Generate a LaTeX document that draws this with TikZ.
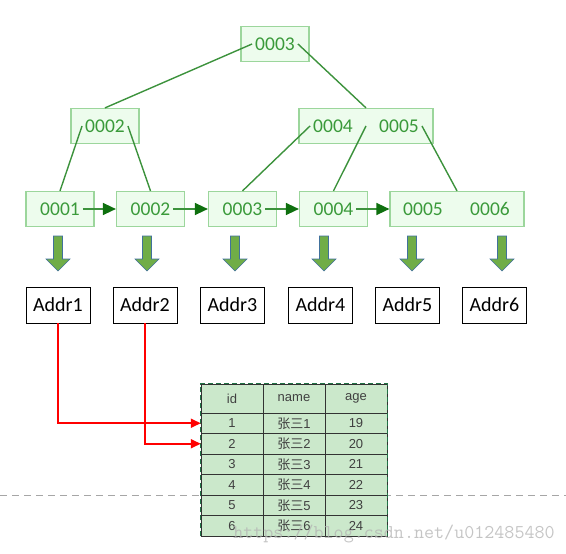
\documentclass[tikz,border=0pt]{standalone}
\usepackage{fontspec}
\setmainfont{Carlito}
\newfontfamily\cjk{Noto Sans CJK SC}
\newfontfamily\tabfont{Liberation Sans}
\usetikzlibrary{arrows.meta}
\definecolor{leaf}{HTML}{EDFCED}
\definecolor{leafline}{HTML}{9CD69C}
\definecolor{keytxt}{HTML}{3A9A3A}
\definecolor{link}{HTML}{3C923C}
\definecolor{linktip}{HTML}{0F700F}
\definecolor{blk}{HTML}{70AD47}
\definecolor{blkline}{HTML}{41719C}
\definecolor{cell}{HTML}{CBE8CB}
\definecolor{sel}{HTML}{217346}

\begin{document}
\begin{tikzpicture}[x=1pt, y=-1pt,
    every node/.style={inner sep=0pt},
    keybox/.style={draw=leafline, fill=leaf, line width=1.2pt,
        minimum height=35pt, minimum width=#1},
    keybox/.default=68pt,
    key/.style={font=\fontsize{19.5}{19.5}\selectfont, text=keytxt, inner sep=3pt},
    treeline/.style={draw=link, line width=1.4pt},
    leaflink/.style={treeline, -{Triangle[length=13pt, width=12pt, color=linktip]}},
    blkarrow/.style={draw=blkline, fill=blk, line width=0.6pt},
    addrbox/.style={draw=black, fill=white, line width=0.8pt, minimum width=64pt,
        minimum height=36pt, font=\fontsize{20}{20}\selectfont},
    addrlink/.style={draw=red, line width=2pt, -{Triangle[length=10pt, width=9pt]}},
    cellbox/.style={draw=black!80, fill=cell, line width=0.5pt, minimum width=62pt,
        minimum height=20.5pt, text=black!75, font=\tabfont\fontsize{13}{13}\selectfont},
    wmark/.style={font=\ttfamily\fontsize{19.5}{19.5}\selectfont, text=black!30, opacity=0.75},
]
\useasboundingbox (0,0) rectangle (566,554);

% Root
\node[keybox] (r) at (275,44) {};
\node[key] (kr) at (275,44) {0003};

% Inner level
\node[keybox] (a) at (105,126) {};
\node[key] (ka) at (105,126) {0002};
\node[keybox=134pt] (m) at (366,126) {};
\node[key] (kb) at (333,126) {0004};
\node[key] (kc) at (399,126) {0005};

% Leaves
\node[keybox] (l1) at (60,209) {};
\node[key] (k1) at (60,209) {0001};
\node[keybox] (l2) at (150.5,209) {};
\node[key] (k2) at (150.5,209) {0002};
\node[keybox] (l3) at (242.5,209) {};
\node[key] (k3) at (242.5,209) {0003};
\node[keybox] (l4) at (333.5,209) {};
\node[key] (k4) at (333.5,209) {0004};
\node[keybox=134pt] (l5) at (457,209) {};
\node[key] (k5) at (423,209) {0005};
\node[key] (k6) at (490,209) {0006};

% Tree edges
\draw[treeline] (kr.west) -- (a.north);
\draw[treeline] (kr.east) -- (m.north);
\draw[treeline] (ka.west) -- (l1.north);
\draw[treeline] (ka.east) -- (l2.north);
\draw[treeline] (kb.west) -- (l3.north);
\draw[treeline] (m.center) -- (l4.north);
\draw[treeline] (kc.east) -- (l5.north);

% Leaf chain
\draw[leaflink] (k1.east) -- (l2.west);
\draw[leaflink] (k2.east) -- (l3.west);
\draw[leaflink] (k3.east) -- (l4.west);
\draw[leaflink] (k4.east) -- (l5.west);

% Block arrows
\foreach \x in {58,147,235,324,412,502}
    \draw[blkarrow] ({\x-4.5},236) -- ++(9,0) -- ++(0,23) -- ++(7.5,0)
        -- (\x,271) -- ({\x-12},259) -- ++(7.5,0) -- cycle;

% Addresses
\node[addrbox] (ad1) at (58,305) {Addr1};
\node[addrbox] (ad2) at (145,305) {Addr2};
\node[addrbox] (ad3) at (232.5,305) {Addr3};
\node[addrbox] (ad4) at (320.5,305) {Addr4};
\node[addrbox] (ad5) at (407.5,305) {Addr5};
\node[addrbox] (ad6) at (494.5,305) {Addr6};

% Page break line
\draw[black!35, line width=1pt, dash pattern=on 7pt off 5pt] (0,495) -- (566,495);

% Table
\node[cellbox, minimum height=29pt] (hid) at (232,398.5) {id};
\node[cellbox, minimum height=29pt] (hnm) at (294,398.5) {name};
\node[cellbox, minimum height=29pt] (hag) at (356,398.5) {age};
\foreach \id/\age [count=\r] in {1/19,2/20,3/21,4/22,5/23,6/24} {
    \node[cellbox] (id\r) at (232,{402.75+20.5*\r}) {\id};
    \node[cellbox] (nm\r) at (294,{402.75+20.5*\r}) {{\cjk 张三}\id};
    \node[cellbox] (ag\r) at (356,{402.75+20.5*\r}) {\age};
}
\draw[sel, line width=1.3pt, dash pattern=on 5pt off 3pt]
    (id6.south west) -- (hid.north west) -- (hag.north east) -- (ag6.south east);

% Row pointers
\draw[addrlink] (ad1.south) |- (id1.west);
\draw[addrlink] (ad2.south) |- (id2.west);

% Watermark
\node[wmark] (wm) at (394,534) {https://blog.csdn.net/u012485480};

\end{tikzpicture}
\end{document}
